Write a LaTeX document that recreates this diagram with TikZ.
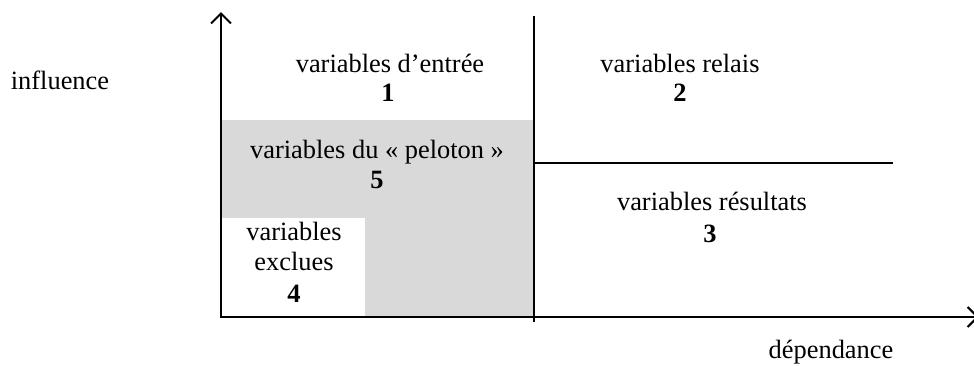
\documentclass[tikz,border=0pt]{standalone}
\usepackage{fontspec}
\setmainfont{Liberation Serif}
\usetikzlibrary{arrows.meta}
\begin{document}
\begin{tikzpicture}[x=0.5pt,y=-0.5pt,
  lbl/.style={font=\fontsize{13.2}{15.8}\selectfont, inner sep=0pt, anchor=base},
  num/.style={lbl, font=\fontsize{13.2}{15.8}\selectfont\bfseries},
  axis/.style={line width=1pt, -{Straight Barb[length=5pt,width=10pt]}},
  rule/.style={line width=1pt},
  shade/.style={fill=black!15}]
\useasboundingbox (0,0) rectangle (974,365);
% zones
\fill[shade] (221,120) rectangle (533,318);
\fill[white] (221,218) rectangle (365,318);
% axes
\coordinate (O) at (221,317);
\coordinate (Ytop) at (221,12);
\coordinate (Xend) at (979,317);
\coordinate (Dtop) at (534,16);
\coordinate (Dbot) at (534,322);
\coordinate (Hl) at (534,163);
\coordinate (Hr) at (893,163);
\coordinate (B4a) at (365,317);
\coordinate (B4t) at (221,218);
\draw[axis] (O) -- (Ytop);
\draw[axis] (O) -- (Xend);
\draw[rule] (Dtop) -- (Dbot);
\draw[rule] (Hl) -- (Hr);
\draw[line width=1.3pt] (B4t) -- (O) -- (B4a);
% labels
\node[lbl] (t1) at (390,72) {variables d’entrée};
\node[num] (n1) at (388,101) {1};
\node[lbl] (t2) at (680,72) {variables relais};
\node[num] (n2) at (680,101) {2};
\node[lbl] (t5) at (377,158) {variables du « peloton »};
\node[num] (n5) at (377,188) {5};
\node[lbl] (t3) at (712,210) {variables résultats};
\node[num] (n3) at (710,242) {3};
\node[lbl] (t4a) at (294,240) {variables};
\node[lbl] (t4b) at (294,270) {exclues};
\node[num] (n4) at (294,302) {4};
\node[lbl] (ti) at (60,89) {influence};
\node[lbl] (td) at (831,358) {dépendance};
\end{tikzpicture}
\end{document}
